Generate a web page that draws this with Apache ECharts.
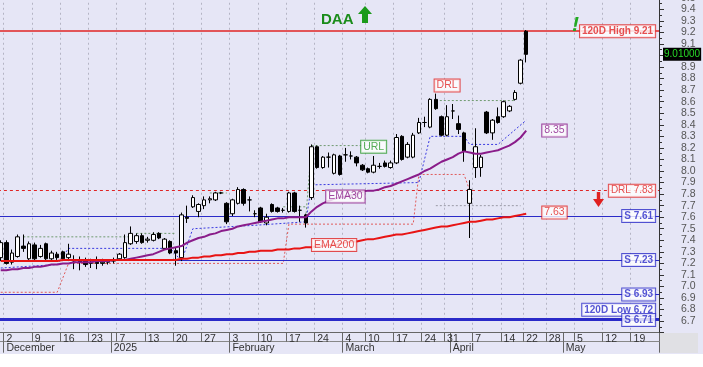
<!DOCTYPE html>
<html><head><meta charset="utf-8">
<script src="https://cdn.jsdelivr.net/npm/echarts@6/dist/echarts.min.js"></script>
<style>
html,body{margin:0;padding:0;width:703px;height:367px;overflow:hidden;background:#fff;}
#bg{position:absolute;left:0;top:0;width:703px;height:354px;background:#e6e6f6;}
#corner{position:absolute;left:660px;top:333px;width:38px;height:20px;background:#e0e0e4;}
#chart{position:absolute;left:0;top:0;width:703px;height:367px;}
</style></head><body>
<div id="bg"></div><div id="corner"></div><div id="chart"></div>
<script>
// ---------- DATA ----------
const categories = [
'2024-11-29',
'2024-12-02','2024-12-03','2024-12-04','2024-12-05','2024-12-06',
'2024-12-09','2024-12-10','2024-12-11','2024-12-12','2024-12-13',
'2024-12-16','2024-12-17','2024-12-18','2024-12-19','2024-12-20',
'2024-12-23','2024-12-27','2024-12-30','2024-12-31',
'2025-01-02',
'2025-01-06','2025-01-07','2025-01-08','2025-01-09','2025-01-10',
'2025-01-13','2025-01-14','2025-01-15','2025-01-16','2025-01-17',
'2025-01-20','2025-01-21','2025-01-22','2025-01-23','2025-01-24',
'2025-01-27','2025-01-28','2025-01-29','2025-01-30','2025-01-31',
'2025-02-03','2025-02-04','2025-02-05','2025-02-06','2025-02-07',
'2025-02-10','2025-02-11','2025-02-12','2025-02-13','2025-02-14',
'2025-02-17','2025-02-18','2025-02-19','2025-02-20','2025-02-21',
'2025-02-24','2025-02-25','2025-02-26','2025-02-27','2025-02-28',
'2025-03-04','2025-03-05','2025-03-06','2025-03-07',
'2025-03-10','2025-03-11','2025-03-12','2025-03-13','2025-03-14',
'2025-03-17','2025-03-18','2025-03-19','2025-03-20','2025-03-21',
'2025-03-24','2025-03-25','2025-03-26','2025-03-27',
'2025-03-31',
'2025-04-01','2025-04-02','2025-04-03','2025-04-04',
'2025-04-07','2025-04-08','2025-04-09','2025-04-10','2025-04-11',
'2025-04-14','2025-04-15','2025-04-16','2025-04-17',
'2025-04-22','2025-04-23','2025-04-24','2025-04-25',
'2025-04-28','2025-04-29','2025-04-30',
'2025-05-01','2025-05-02',
'2025-05-05','2025-05-06','2025-05-07','2025-05-08','2025-05-09',
'2025-05-12','2025-05-13','2025-05-14','2025-05-15','2025-05-16',
'2025-05-19','2025-05-20','2025-05-21','2025-05-22','2025-05-23'
];

const weekLabels = {
'2024-12-02':'2','2024-12-09':'9','2024-12-16':'16','2024-12-23':'23',
'2025-01-06':'7','2025-01-13':'13','2025-01-20':'20','2025-01-27':'27',
'2025-02-03':'3','2025-02-10':'10','2025-02-17':'17','2025-02-24':'24',
'2025-03-04':'4','2025-03-10':'10','2025-03-17':'17','2025-03-24':'24','2025-03-31':'31',
'2025-04-07':'7','2025-04-14':'14','2025-04-22':'22','2025-04-28':'28',
'2025-05-05':'5','2025-05-12':'12','2025-05-19':'19'
};
const monthLabels = {
'2024-12-02':'December','2025-01-02':'2025','2025-02-03':'February',
'2025-03-04':'March','2025-04-01':'April','2025-05-01':'May'
};

const openP = [7.25,7.38,7.21,7.26,7.35,7.24,7.36,7.26,7.37,7.24,
7.28,7.30,7.25,7.23,7.22,7.23,7.20,7.21,7.20,7.21,
7.22,7.24,7.25,7.37,7.39,7.44,7.40,7.40,7.46,7.33,
7.39,7.31,7.25,7.60,7.69,7.65,7.70,7.75,7.75,7.81,
7.72,7.63,7.72,7.84,7.75,7.63,7.68,7.55,7.71,7.68,
7.66,7.65,7.81,7.66,7.62,7.77,8.21,8.03,8.12,7.98,
8.13,8.14,8.13,8.12,8.05,8.02,7.99,8.04,8.07,8.03,
8.07,8.30,8.12,8.12,8.33,8.42,8.38,8.62,8.47,8.31,
8.52,8.41,8.33,7.72,8.03,8.03,8.51,8.33,8.47,8.47,
8.52,8.62,8.76,9.21];
const highP = [7.40,7.40,7.32,7.45,7.45,7.39,7.38,7.36,7.38,7.31,
7.30,7.31,7.37,7.27,7.26,7.25,7.24,7.26,7.24,7.23,
7.25,7.29,7.45,7.52,7.46,7.46,7.43,7.47,7.47,7.42,
7.40,7.34,7.64,7.70,7.79,7.72,7.78,7.78,7.82,7.82,
7.73,7.76,7.86,7.85,7.78,7.66,7.69,7.63,7.72,7.69,
7.68,7.82,7.82,7.70,7.63,8.23,8.22,8.13,8.16,8.15,
8.14,8.20,8.17,8.13,8.06,8.03,8.13,8.07,8.09,8.09,
8.32,8.31,8.25,8.33,8.46,8.47,8.63,8.67,8.48,8.57,
8.58,8.48,8.34,7.92,8.37,8.14,8.52,8.45,8.55,8.61,
8.57,8.70,8.97,9.22];
const lowP = [7.22,7.19,7.19,7.25,7.30,7.23,7.22,7.25,7.23,7.23,
7.23,7.22,7.22,7.15,7.14,7.17,7.16,7.15,7.18,7.19,
7.20,7.23,7.24,7.36,7.37,7.37,7.38,7.39,7.41,7.32,
7.28,7.18,7.22,7.55,7.68,7.60,7.67,7.72,7.74,7.80,
7.54,7.61,7.71,7.70,7.65,7.60,7.55,7.53,7.64,7.64,
7.64,7.64,7.64,7.56,7.51,7.75,8.02,8.02,8.03,7.97,
7.96,8.08,8.10,8.04,8.00,7.98,7.98,8.02,8.03,8.02,
8.06,8.09,8.11,8.11,8.32,8.38,8.37,8.53,8.30,8.30,
8.45,8.32,8.08,7.42,7.94,7.95,8.32,8.27,8.41,8.46,
8.51,8.61,8.75,8.94];
const closeP = [7.38,7.20,7.29,7.43,7.33,7.37,7.24,7.33,7.24,7.29,
7.25,7.24,7.28,7.22,7.21,7.19,7.21,7.20,7.21,7.22,
7.23,7.28,7.38,7.46,7.44,7.38,7.41,7.45,7.42,7.41,
7.29,7.29,7.62,7.59,7.77,7.71,7.75,7.76,7.81,7.81,
7.56,7.75,7.84,7.72,7.75,7.63,7.56,7.60,7.65,7.65,
7.66,7.81,7.65,7.66,7.55,8.21,8.03,8.12,8.12,8.14,
7.97,8.14,8.13,8.07,8.01,7.99,8.05,8.04,8.04,8.07,
8.29,8.10,8.23,8.31,8.42,8.42,8.62,8.54,8.31,8.47,
8.52,8.36,8.17,7.84,8.21,8.12,8.33,8.44,8.42,8.60,
8.56,8.68,8.96,9.01];

const ema30 = [7.14,7.14,7.15,7.15,7.16,7.16,7.17,7.17,7.18,7.19,
7.19,7.20,7.20,7.21,7.21,7.21,7.21,7.22,7.22,7.22,
7.23,7.23,7.23,7.24,7.25,7.26,7.27,7.28,7.30,7.32,
7.33,7.34,7.35,7.38,7.40,7.42,7.43,7.45,7.46,7.48,
7.49,7.50,7.52,7.53,7.54,7.55,7.56,7.57,7.58,7.59,
7.59,7.60,7.60,7.60,7.60,7.65,7.69,7.72,7.74,7.76,
7.77,7.78,7.79,7.80,7.82,7.83,7.83,7.84,7.86,7.87,
7.89,7.91,7.93,7.95,7.97,8.00,8.02,8.05,8.08,8.10,
8.12,8.15,8.17,8.16,8.15,8.15,8.16,8.17,8.18,8.20,
8.22,8.25,8.29,8.35];
const ema200 = [7.22,7.22,7.22,7.22,7.22,7.22,7.22,7.22,7.22,7.22,
7.22,7.23,7.23,7.23,7.23,7.23,7.23,7.23,7.23,7.23,
7.23,7.23,7.23,7.23,7.23,7.23,7.23,7.23,7.23,7.23,
7.23,7.23,7.24,7.24,7.25,7.25,7.26,7.26,7.27,7.27,
7.28,7.28,7.29,7.29,7.30,7.30,7.31,7.31,7.31,7.32,
7.32,7.32,7.33,7.33,7.34,7.34,7.35,7.35,7.36,7.36,
7.37,7.38,7.39,7.39,7.40,7.41,7.41,7.42,7.43,7.44,
7.45,7.45,7.46,7.47,7.48,7.49,7.50,7.51,7.52,7.52,
7.53,7.54,7.55,7.56,7.56,7.57,7.58,7.58,7.59,7.60,
7.60,7.61,7.62,7.63];

// horizontal levels
const high120 = 9.21;
const low120 = 6.72;
const drlLevel = 7.83;
const supportLevels = [7.61, 7.23, 6.93, 6.71];
const lastPrice = 9.01;

// stepped trailing levels (date, price)
const redTrail = [['2024-11-29',6.95],['2024-12-13',6.95],['2024-12-17',7.20],['2025-02-14',7.20],
  ['2025-02-17',7.54],['2025-03-20',7.54],['2025-03-21',7.97],['2025-04-03',7.97],['2025-04-04',7.83]];
const blueTrail = [['2024-11-29',7.16],['2024-12-13',7.19],['2024-12-17',7.33],['2025-01-17',7.33],
  ['2025-01-21',7.22],['2025-01-23',7.50],['2025-02-07',7.53],['2025-02-20',7.56],['2025-02-21',7.88],
  ['2025-03-21',7.90],['2025-03-25',8.30],['2025-04-03',8.30],['2025-04-04',8.23],['2025-04-11',8.23],['2025-04-22',8.44]];
const greenSegments = [
  [['2024-12-05',7.43],['2025-01-08',7.43]],
  [['2025-01-09',7.46],['2025-01-20',7.46]],
  [['2025-01-28',7.81],['2025-01-31',7.81]],
  [['2025-02-14',7.69],['2025-02-20',7.69]],
  [['2025-02-20',7.60],['2025-02-21',8.22],['2025-03-11',8.22]],
  [['2025-03-26',8.61],['2025-04-16',8.61]]
];
const graySegment = [['2025-03-26',7.70],['2025-04-17',7.70]];

// tags
const levelTagText = ['120D High 9.21','DRL 7.83','S 7.61','S 7.23','S 6.93','120D Low 6.72','S 6.71'];
const levelTagValue = [9.21, 7.83, 7.61, 7.23, 6.93, 6.72, 6.71];
const emaTagText = ['8.35','7.63'];
const emaTagValue = [8.35, 7.64];
const emaTagDate = '2025-04-29';
const noteText = ['DRL','URL','EMA30','EMA200'];
const noteDate = ['2025-03-31','2025-03-11','2025-03-04','2025-02-27'];
const noteValue = [8.74, 8.21, 7.78, 7.36];

// ---------- CHART ----------
const F = '"Liberation Sans", Arial, sans-serif';
const RED = '#e02424', BLUE = '#2a2ac8', PURPLE = '#8a1c8a', GREEN = '#2a9a2a';
const chart = echarts.init(document.getElementById('chart'), null, {renderer:'canvas'});

const candleData = openP.map((o,i)=>[o, closeP[i], lowP[i], highP[i]]);
const lastCat = categories[categories.length-1];

function tag(color, bold){
  return {show:true, position:'left', distance:1, color:color, fontSize:10, fontFamily:F,
    fontWeight: bold ? 'bold' : 'normal', backgroundColor:'#fff', borderColor:color, borderWidth:1,
    padding:[1,2,0,2], lineHeight:11};
}
const levelColors = [RED, RED, BLUE, BLUE, BLUE, BLUE, BLUE];
const levelBold = [true, false, true, true, true, true, true];
const tagData = levelTagText.map((t,i)=>({
  value:[lastCat, levelTagValue[i]],
  label: Object.assign(tag(levelColors[i], levelBold[i]), {formatter:t, offset: t.indexOf('Low')>=0 ? [0,-9] : [0,0]})
}));
const emaColors = [PURPLE, RED];
emaTagText.forEach((t,i)=>tagData.push({value:[emaTagDate, emaTagValue[i]],
  label: Object.assign(tag(emaColors[i], false), {position:'inside', formatter:t, fontSize:10.5})}));
const noteColors = [RED, GREEN, PURPLE, RED];
noteText.forEach((t,i)=>tagData.push({value:[noteDate[i], noteValue[i]],
  label: Object.assign(tag(noteColors[i], false), {position:'inside', formatter:t, fontSize:10.5})}));

const levelLines = [
  {yAxis: high120, lineStyle:{color:RED, width:1.5, type:'solid'}},
  {yAxis: drlLevel, lineStyle:{color:RED, width:1, type:[3,3]}},
  {yAxis: supportLevels[0], lineStyle:{color:BLUE, width:1.2, type:'solid'}},
  {yAxis: supportLevels[1], lineStyle:{color:BLUE, width:1.2, type:'solid'}},
  {yAxis: supportLevels[2], lineStyle:{color:BLUE, width:1.2, type:'solid'}},
  {yAxis: low120, lineStyle:{color:BLUE, width:2, type:'solid'}},
  {yAxis: supportLevels[3], lineStyle:{color:BLUE, width:2, type:'solid'}},
  {yAxis: lastPrice, lineStyle:{color:'rgba(0,0,0,0)', width:0},
    label:{show:true, position:'end', distance:4, formatter:'9.01000', color:'#27d827', backgroundColor:'#000',
      fontSize:10, fontFamily:F, padding:[2,1,1,1]}}
];

function dotted(data, color, name){
  return {type:'line', name:name, data:data, symbol:'none', silent:true, z:3,
    lineStyle:{color:color, width:1, type:[2,2]}, animation:false};
}

const weekTick = (i)=> !!weekLabels[categories[i]] || !!monthLabels[categories[i]];
const weekOnly = (i)=> !!weekLabels[categories[i]];
const monthOnly = (i)=> !!monthLabels[categories[i]];

const series = [
  {type:'candlestick', name:'DAA', data:candleData, barWidth:4, z:5, silent:true,
    itemStyle:{color:'#ffffff', color0:'#000000', borderColor:'#000000', borderColor0:'#000000', borderWidth:1},
    markLine:{symbol:['none','none'], silent:true, animation:false, label:{show:false}, data:levelLines}},
  {type:'line', name:'EMA30', data:ema30, symbol:'none', z:6, silent:true, lineStyle:{color:PURPLE, width:2}},
  {type:'line', name:'EMA200', data:ema200, symbol:'none', z:6, silent:true, lineStyle:{color:'#e81414', width:2}},
  dotted(redTrail, '#e05a5a', 'redTrail'),
  dotted(blueTrail, '#3a3ae0', 'blueTrail'),
  dotted(graySegment, '#9a9aa6', 'gray')
];
greenSegments.forEach((s,i)=>series.push(dotted(s, '#6f9a6f', 'green'+i)));
series.push({type:'scatter', data:tagData, symbolSize:0.1, itemStyle:{color:'rgba(0,0,0,0)'}, z:10, silent:true});

const option = {
  animation:false,
  backgroundColor:'transparent',
  textStyle:{fontFamily:F},
  title:{text:'DAA', left:316, top:7, textStyle:{color:'#1a8c1a', fontSize:15, fontWeight:'bold', fontFamily:F}},
  grid:{left:-2.1, right:44, top:-2.25, bottom:34.3, containLabel:false, outerBoundsMode:'none'},
  xAxis:[
    {type:'category', data:categories, boundaryGap:true, position:'bottom',
      axisLine:{show:true, lineStyle:{color:'#666', width:1}},
      axisTick:{show:true, interval:weekTick, length:9, lineStyle:{color:'#666'}},
      axisLabel:{show:true, interval:weekOnly, formatter:(v)=>weekLabels[v]||'', align:'left',
        margin:1, fontSize:10.5, color:'#333', fontFamily:F},
      splitLine:{show:true, interval:weekOnly, lineStyle:{color:'#b4b4c4', type:[2,3], width:1}}},
    {type:'category', data:categories, boundaryGap:true, position:'bottom', offset:9,
      axisLine:{show:true, lineStyle:{color:'#888', width:1}},
      axisTick:{show:true, interval:monthOnly, length:11, lineStyle:{color:'#666'}},
      axisLabel:{show:true, interval:monthOnly, formatter:(v)=>monthLabels[v]||'', align:'left',
        margin:1, fontSize:10.5, color:'#333', fontFamily:F},
      splitLine:{show:false}}
  ],
  yAxis:{type:'value', position:'right', min:6.6, max:9.5, interval:0.1,
    axisLine:{show:true, lineStyle:{color:'#333'}},
    axisTick:{show:true, length:5, lineStyle:{color:'#333'}},
    minorTick:{show:true, splitNumber:2, length:3, lineStyle:{color:'#333'}},
    splitLine:{show:false},
    axisLabel:{margin:22, color:'#555', fontSize:10.5, fontFamily:F, showMinLabel:false,
      formatter:(v)=>v.toFixed(1)}},
  graphic:[
    {type:'polygon', silent:true, z:100, shape:{points:[[365,6],[372,14],[368,14],[368,23],[362,23],[362,14],[358,14]]},
      style:{fill:'#1a9a1a'}},
    {type:'polygon', silent:true, z:100, shape:{points:[[598.5,207],[604,199],[600.2,199],[600.2,192],[596.8,192],[596.8,199],[593,199]]},
      style:{fill:'#e02020'}},
    {type:'text', silent:true, z:100, x:572, y:15, style:{text:'!', fill:'#22aa22', fontSize:21, fontWeight:'bold', fontStyle:'italic', fontFamily:F}}
  ],
  series:series
};
chart.setOption(option);
</script>
</body></html>
